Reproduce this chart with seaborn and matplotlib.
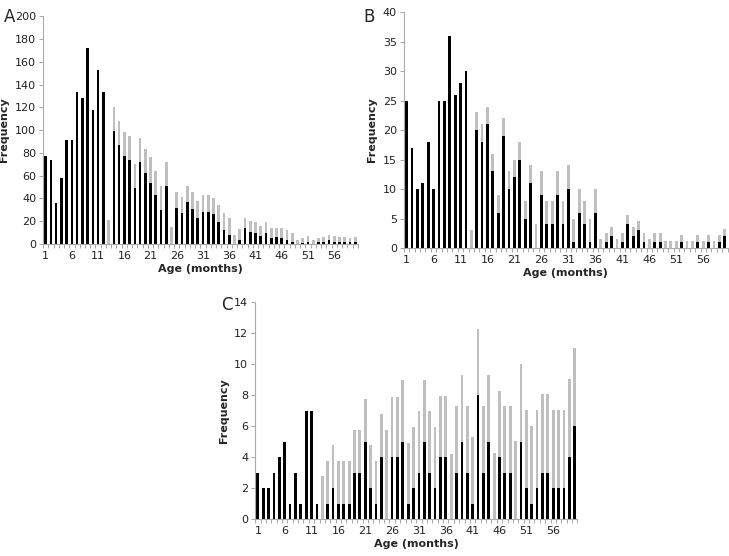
import numpy as np
import pandas as pd
from matplotlib import pyplot as plt
import seaborn as sns

ages = list(range(1, 61))

# panel A
a_black = [77, 74, 36, 58, 91, 91, 133, 128, 172, 118, 153, 133, 0, 99, 87, 77, 74, 49, 72, 62,
           54, 43, 30, 51, 0, 32, 27, 37, 31, 23, 28, 28, 26, 19, 12, 8, 0, 4, 14, 11,
           10, 7, 10, 5, 6, 5, 4, 2, 0, 1, 2, 0, 2, 2, 4, 2, 2, 2, 1.5, 2]
a_total = [77, 74, 36, 58, 91, 91, 133, 128, 172, 118, 153, 133, 21, 120, 108, 98, 95, 70, 93, 83,
           76, 64, 51, 72, 15, 46, 41, 51, 46, 38, 43, 43, 40, 34, 27, 23, 8, 13, 23, 20,
           19, 16, 19, 14, 14.5, 14, 12.5, 10, 4, 5, 7, 4, 5, 6, 8, 7, 6, 6, 5, 6]

# panel B
b_black = [25, 17, 10, 11, 18, 10, 25, 25, 36, 26, 28, 30, 0, 20, 18, 21, 13, 6, 19, 10,
           12, 15, 5, 11, 0, 9, 4, 4, 9, 4, 10, 1, 6, 4, 1, 6, 0, 1, 2, 0,
           1, 4, 2, 3, 1, 0, 1, 1, 0, 0, 0, 1, 0, 0, 1, 0, 1, 0, 1, 2]
b_total = [25, 17, 10, 11, 18, 10, 25, 25, 36, 26, 28, 30, 3, 23, 21, 24, 16, 9, 22, 13,
           15, 18, 8, 14, 4, 13, 8, 8, 13, 8, 14, 5, 10, 8, 5, 10, 1.6, 2.6, 3.6, 1.6,
           2.6, 5.6, 3.6, 4.6, 2.6, 1.6, 2.6, 2.6, 1.2, 1.2, 1.2, 2.2, 1.2, 1.2, 2.2, 1.2, 2.2, 1.2, 2.2, 3.2]

# panel C
c_black = [3, 2, 2, 3, 4, 5, 1, 3, 1, 7, 7, 1, 0, 1, 2, 1, 1, 1, 3, 3,
           5, 2, 1, 4, 0, 4, 4, 5, 1, 2, 3, 5, 3, 2, 4, 4, 0, 3, 5, 3,
           1, 8, 3, 5, 0, 4, 3, 3, 0, 5, 2, 1, 2, 3, 3, 2, 2, 2, 4, 6]
c_total = [3, 2, 2, 3, 4, 5, 1, 3, 1, 7, 7, 1, 2.77, 3.74, 4.77, 3.74, 3.74, 3.74, 5.78, 5.78,
           7.78, 4.77, 3.74, 6.77, 5.74, 7.9, 7.9, 8.97, 4.9, 5.96, 6.95, 8.97, 6.95, 5.96, 7.94, 7.94, 4.2, 7.3, 9.27, 7.3,
           5.27, 12.3, 7.3, 9.27, 4.24, 8.28, 7.3, 7.3, 5.03, 10.04, 7.03, 6.02, 7.03, 8.04, 8.04, 7.03, 7.03, 7.03, 9.03, 11.03]

sns.set_style('white')
plt.rcParams['font.family'] = ['DejaVu Sans']

fig = plt.figure(figsize=(7.29, 5.56), dpi=100)

panels = [
    ('A', a_black, a_total, [0.059, 0.561, 0.432, 0.410], 200, 20, (0.005, 0.985)),
    ('B', b_black, b_total, [0.554, 0.554, 0.444, 0.424], 40, 5, (0.498, 0.985)),
    ('C', c_black, c_total, [0.350, 0.0665, 0.442, 0.390], 14, 2, (0.304, 0.468)),
]

for letter, black, total, rect, ymax, ystep, lpos in panels:
    ax = fig.add_axes(rect)
    df = pd.DataFrame({'age': ages, 'black': black, 'total': total})
    sns.barplot(data=df, x='age', y='total', color='#bfbfbf', width=0.52,
                saturation=1, linewidth=0, ax=ax)
    sns.barplot(data=df, x='age', y='black', color='black', width=0.52,
                saturation=1, linewidth=0, ax=ax)
    ax.set_xlim(-0.5, 59.5)
    ax.set_ylim(0, ymax)
    ax.set_yticks(np.arange(0, ymax + 1, ystep))
    ax.tick_params(axis='y', labelsize=8, length=3, width=0.6, color='#999999',
                   labelcolor='#222222', pad=2, left=True)
    # tick marks between categories, labels under every 5th bar
    ax.set_xticks(np.arange(-0.5, 60, 1))
    ax.set_xticklabels([])
    ax.tick_params(axis='x', which='major', length=3, width=0.6, color='#999999',
                   bottom=True)
    ax.set_xticks(np.arange(0, 60, 5), minor=True)
    ax.set_xticklabels([str(a) for a in ages[::5]], minor=True)
    ax.tick_params(axis='x', which='minor', length=0, labelsize=8,
                   labelcolor='#222222', pad=5)
    for s in ['top', 'right']:
        ax.spines[s].set_visible(False)
    for s in ['left', 'bottom']:
        ax.spines[s].set_color('#aaaaaa')
        ax.spines[s].set_linewidth(0.8)
    ax.set_xlabel('Age (months)', fontsize=8, fontweight='bold', labelpad=2)
    ax.set_ylabel('Frequency', fontsize=8, fontweight='bold', labelpad=4)
    fig.text(lpos[0], lpos[1], letter, fontsize=12, ha='left', va='top')

plt.savefig('out.png', dpi=100)
